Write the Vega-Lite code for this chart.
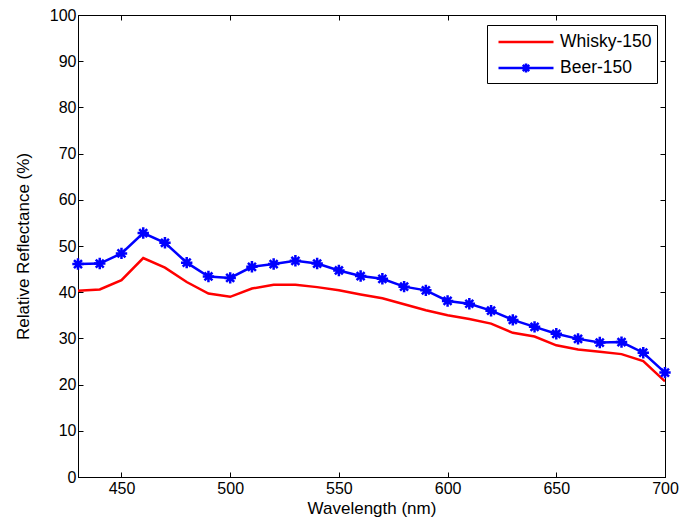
{
  "$schema": "https://vega.github.io/schema/vega-lite/v6.json",
  "autosize": "none",
  "width": 587,
  "height": 462,
  "padding": {"left": 78, "top": 15, "right": 14, "bottom": 50},
  "background": "white",
  "config": {
    "view": {"stroke": "black", "strokeWidth": 1},
    "font": "Liberation Sans",
    "axis": {
      "domainColor": "black",
      "tickColor": "black",
      "labelColor": "black",
      "titleColor": "black",
      "grid": false,
      "labelFont": "Liberation Sans",
      "titleFont": "Liberation Sans",
      "labelFontSize": 16,
      "titleFontSize": 17,
      "titleFontWeight": "normal",
      "tickSize": -5,
      "labelFlush": false
    }
  },
  "data": {
    "values": [
      {"wavelength": 430, "reflectance": 40.3, "series": "Whisky-150"},
      {"wavelength": 440, "reflectance": 40.6, "series": "Whisky-150"},
      {"wavelength": 450, "reflectance": 42.6, "series": "Whisky-150"},
      {"wavelength": 460, "reflectance": 47.4, "series": "Whisky-150"},
      {"wavelength": 470, "reflectance": 45.3, "series": "Whisky-150"},
      {"wavelength": 480, "reflectance": 42.2, "series": "Whisky-150"},
      {"wavelength": 490, "reflectance": 39.7, "series": "Whisky-150"},
      {"wavelength": 500, "reflectance": 39.0, "series": "Whisky-150"},
      {"wavelength": 510, "reflectance": 40.8, "series": "Whisky-150"},
      {"wavelength": 520, "reflectance": 41.6, "series": "Whisky-150"},
      {"wavelength": 530, "reflectance": 41.6, "series": "Whisky-150"},
      {"wavelength": 540, "reflectance": 41.1, "series": "Whisky-150"},
      {"wavelength": 550, "reflectance": 40.4, "series": "Whisky-150"},
      {"wavelength": 560, "reflectance": 39.5, "series": "Whisky-150"},
      {"wavelength": 570, "reflectance": 38.7, "series": "Whisky-150"},
      {"wavelength": 580, "reflectance": 37.4, "series": "Whisky-150"},
      {"wavelength": 590, "reflectance": 36.1, "series": "Whisky-150"},
      {"wavelength": 600, "reflectance": 35.0, "series": "Whisky-150"},
      {"wavelength": 610, "reflectance": 34.2, "series": "Whisky-150"},
      {"wavelength": 620, "reflectance": 33.2, "series": "Whisky-150"},
      {"wavelength": 630, "reflectance": 31.2, "series": "Whisky-150"},
      {"wavelength": 640, "reflectance": 30.4, "series": "Whisky-150"},
      {"wavelength": 650, "reflectance": 28.5, "series": "Whisky-150"},
      {"wavelength": 660, "reflectance": 27.6, "series": "Whisky-150"},
      {"wavelength": 670, "reflectance": 27.1, "series": "Whisky-150"},
      {"wavelength": 680, "reflectance": 26.6, "series": "Whisky-150"},
      {"wavelength": 690, "reflectance": 25.1, "series": "Whisky-150"},
      {"wavelength": 700, "reflectance": 20.7, "series": "Whisky-150"},
      {"wavelength": 430, "reflectance": 46.1, "series": "Beer-150"},
      {"wavelength": 440, "reflectance": 46.2, "series": "Beer-150"},
      {"wavelength": 450, "reflectance": 48.4, "series": "Beer-150"},
      {"wavelength": 460, "reflectance": 52.8, "series": "Beer-150"},
      {"wavelength": 470, "reflectance": 50.7, "series": "Beer-150"},
      {"wavelength": 480, "reflectance": 46.4, "series": "Beer-150"},
      {"wavelength": 490, "reflectance": 43.4, "series": "Beer-150"},
      {"wavelength": 500, "reflectance": 43.1, "series": "Beer-150"},
      {"wavelength": 510, "reflectance": 45.5, "series": "Beer-150"},
      {"wavelength": 520, "reflectance": 46.1, "series": "Beer-150"},
      {"wavelength": 530, "reflectance": 46.8, "series": "Beer-150"},
      {"wavelength": 540, "reflectance": 46.2, "series": "Beer-150"},
      {"wavelength": 550, "reflectance": 44.7, "series": "Beer-150"},
      {"wavelength": 560, "reflectance": 43.5, "series": "Beer-150"},
      {"wavelength": 570, "reflectance": 42.9, "series": "Beer-150"},
      {"wavelength": 580, "reflectance": 41.2, "series": "Beer-150"},
      {"wavelength": 590, "reflectance": 40.4, "series": "Beer-150"},
      {"wavelength": 600, "reflectance": 38.1, "series": "Beer-150"},
      {"wavelength": 610, "reflectance": 37.5, "series": "Beer-150"},
      {"wavelength": 620, "reflectance": 36.0, "series": "Beer-150"},
      {"wavelength": 630, "reflectance": 34.0, "series": "Beer-150"},
      {"wavelength": 640, "reflectance": 32.5, "series": "Beer-150"},
      {"wavelength": 650, "reflectance": 31.0, "series": "Beer-150"},
      {"wavelength": 660, "reflectance": 29.9, "series": "Beer-150"},
      {"wavelength": 670, "reflectance": 29.1, "series": "Beer-150"},
      {"wavelength": 680, "reflectance": 29.2, "series": "Beer-150"},
      {"wavelength": 690, "reflectance": 26.9, "series": "Beer-150"},
      {"wavelength": 700, "reflectance": 22.6, "series": "Beer-150"}
    ]
  },
  "layer": [
    {
      "mark": {"type": "line", "strokeWidth": 2.5, "clip": true},
      "encoding": {
        "x": {
          "field": "wavelength", "type": "quantitative",
          "scale": {"domain": [430, 700], "nice": false, "zero": false},
          "axis": {"values": [450, 500, 550, 600, 650, 700], "title": "Wavelength (nm)", "labelPadding": 8, "titlePadding": 4}
        },
        "y": {
          "field": "reflectance", "type": "quantitative",
          "scale": {"domain": [0, 100], "nice": false},
          "axis": {"values": [0, 10, 20, 30, 40, 50, 60, 70, 80, 90, 100], "title": "Relative Reflectance (%)", "labelPadding": 7, "titlePadding": 17}
        },
        "color": {
          "field": "series", "type": "nominal",
          "scale": {"domain": ["Whisky-150", "Beer-150"], "range": ["#ff0000", "#0000ff"]},
          "sort": ["Whisky-150", "Beer-150"],
          "legend": {
            "title": null,
            "orient": "none",
            "legendX": 409,
            "legendY": 10,
            "strokeColor": "black",
            "fillColor": "white",
            "padding": 5.5,
            "symbolSize": 400,
            "symbolStrokeWidth": 2.5,
            "symbolOffset": 22,
            "labelOffset": 22.5,
            "rowPadding": 6,
            "labelFont": "Liberation Sans",
            "labelFontSize": 17.5,
            "labelColor": "black",
            "labelExpr": "datum.label + ' '",
            "encode": {
              "symbols": {
                "update": {
                  "shape": {"signal": "datum.value === 'Beer-150' ? 'M-2.75,0H2.75M0,-0.45V0.45M-0.45,0H0.45M-0.32,-0.32L0.32,0.32M-0.32,0.32L0.32,-0.32' : 'M-2.75,0H2.75'"},
                  "fill": {"value": "transparent"}
                }
              }
            }
          }
        }
      }
    },
    {
      "transform": [{"filter": "datum.series === 'Beer-150'"}],
      "mark": {
        "type": "point",
        "shape": "M-1,0H1M0,-1V1M-0.7,-0.7L0.7,0.7M-0.7,0.7L0.7,-0.7",
        "filled": false,
        "color": "#0000ff",
        "strokeWidth": 2.5,
        "size": 130,
        "opacity": 1,
        "clip": false
      },
      "encoding": {
        "x": {
          "field": "wavelength", "type": "quantitative",
          "axis": {"orient": "top", "values": [450, 500, 550, 600, 650, 700], "labels": false, "title": null}
        },
        "y": {
          "field": "reflectance", "type": "quantitative",
          "axis": {"orient": "right", "values": [0, 10, 20, 30, 40, 50, 60, 70, 80, 90, 100], "labels": false, "title": null}
        }
      }
    }
  ],
  "resolve": {"axis": {"x": "independent", "y": "independent"}}
}
